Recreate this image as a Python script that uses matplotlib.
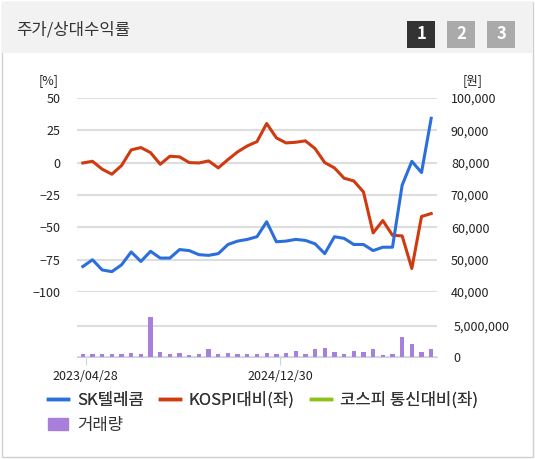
import matplotlib
matplotlib.use("Agg")
import matplotlib.pyplot as plt
from matplotlib.patches import Rectangle
from matplotlib.lines import Line2D
from matplotlib.patches import Patch
import numpy as np

plt.rcParams['font.family'] = ['Noto Sans CJK KR', 'DejaVu Sans']

kospi_rel = [-0.3, 1.0, -5.1, -9.0, -2.3, 9.8, 11.6, 7.7, -1.3, 4.9, 4.4, 0.0, -0.3, 1.3, -4.1, 2.3,
             8.3, 12.9, 16.2, 30.2, 19.1, 15.2, 15.7, 16.8, 10.8, 0.0, -4.1, -12.1, -14.2, -22.7,
             -54.4, -44.8, -56.2, -56.7, -81.9, -41.7, -39.4]
price = [47850, 49950, 46800, 46270, 48370, 52360, 49420, 52570, 50470, 50470, 53100, 52780, 51520,
         51310, 51840, 54670, 55720, 56240, 57080, 61700, 55510, 55720, 56240, 55930, 54880, 51840,
         57080, 56560, 54670, 54670, 52780, 53830, 53830, 73030, 80380, 76920, 93700]
vol_tops = [160, 162, 162, 162, 162, 157, 160, 50, 155, 160, 157, 165, 162, 147, 160, 157, 160, 160,
            160, 157, 160, 157, 152, 160, 147, 143, 155, 160, 152, 155, 147, 165, 160, 113, 132, 155, 147]
volume = [(170 - t) / 90 * 5e6 for t in vol_tops]
tick_labels = ["2023/04/28", "2024/12/30"]
tick_pos = [0.3, 20.4]
x = np.arange(len(price))

fig = plt.figure(figsize=(5.35, 4.59), dpi=100)
fig.patches.append(Rectangle((0.004, 0.004), 0.992, 0.992, transform=fig.transFigure,
                             fill=False, ec='#d0d0d0', lw=1))
fig.patches.append(Rectangle((0.004, 0.885), 0.992, 0.111, transform=fig.transFigure,
                             fc='#f2f2f2', ec='none'))
fig.text(0.03, 0.935, "주가/상대수익률", fontsize=12, color='#333333', va='center')
for i, (lab, c) in enumerate([("1", '#333333'), ("2", '#aaaaaa'), ("3", '#aaaaaa')]):
    x0 = (407 + i * 40) / 535
    fig.patches.append(Rectangle((x0, 0.895), 28 / 535, 0.06, transform=fig.transFigure,
                                 fc=c, ec='none'))
    fig.text(x0 + 14 / 535, 0.925, lab, fontsize=12, color='white', weight='bold',
             ha='center', va='center')

L, W = 77 / 535, 360 / 535
ax = fig.add_axes([L, 0.364, W, 0.4227])
ax.plot(x, kospi_rel, color='#d03a10', lw=2.2)
ax.set_ylim(-100, 50)
ax.set_xlim(-0.6, 36.6)
ax.set_yticks([50, 25, 0, -25, -50, -75, -100])
ax.grid(axis='y', color='#dddddd', lw=1.5)
ax.set_axisbelow(True)
for s in ax.spines.values():
    s.set_visible(False)
ax.tick_params(length=0, labelsize=9, colors='#222222', pad=12)
ax.set_xticks([])
ax.text(-0.05, 1.07, "[%]", transform=ax.transAxes, fontsize=9, ha='right', color='#222222')
ax2 = ax.twinx()
ax2.plot(x, price, color='#2a6fdb', lw=2.2)
ax2.set_ylim(40000, 100000)
ax2.set_yticks(range(40000, 100001, 10000))
ax2.set_yticklabels([f"{v:,}" for v in range(40000, 100001, 10000)])
for s in ax2.spines.values():
    s.set_visible(False)
ax2.tick_params(length=0, labelsize=9, colors='#222222', pad=10)
ax2.text(1.1, 1.07, "[원]", transform=ax2.transAxes, fontsize=9, ha='center', color='#222222')

axv = fig.add_axes([L, 0.222, W, 0.087])
axv.bar(x, volume, width=0.45, color='#a97fdc')
axv.set_xlim(-0.6, 36.6)
axv.set_ylim(0, 6.33e6)
axv.yaxis.tick_right()
axv.set_yticks([0, 5e6])
axv.set_yticklabels(["0", "5,000,000"])
axv.grid(axis='y', color='#dddddd', lw=1.5)
axv.set_axisbelow(True)
for k, s in axv.spines.items():
    s.set_visible(k == 'bottom')
axv.spines['bottom'].set_color('#c8d4e0')
axv.set_xticks(tick_pos)
axv.set_xticklabels(tick_labels)
axv.tick_params(axis='x', length=6, color='#c8d4e0', labelsize=9, colors='#222222')
axv.tick_params(axis='y', length=0, labelsize=9, colors='#222222', pad=12)

kw = dict(loc='upper left', frameon=False, fontsize=12, handlelength=1.2, columnspacing=1.0,
          handletextpad=0.5, labelcolor='#333333', borderpad=0)
h1 = [Line2D([], [], color='#2a6fdb', lw=2.5), Line2D([], [], color='#d03a10', lw=2.5),
      Line2D([], [], color='#8cc21a', lw=2.5)]
leg1 = fig.legend(h1, ["SK텔레콤", "KOSPI대비(좌)", "코스피 통신대비(좌)"], ncol=3,
                  bbox_to_anchor=(0.075, 0.165), **kw)
fig.add_artist(leg1)
fig.legend([Patch(color='#a97fdc')], ["거래량"], bbox_to_anchor=(0.075, 0.11), **kw)
fig.savefig("out.png", dpi=100)
